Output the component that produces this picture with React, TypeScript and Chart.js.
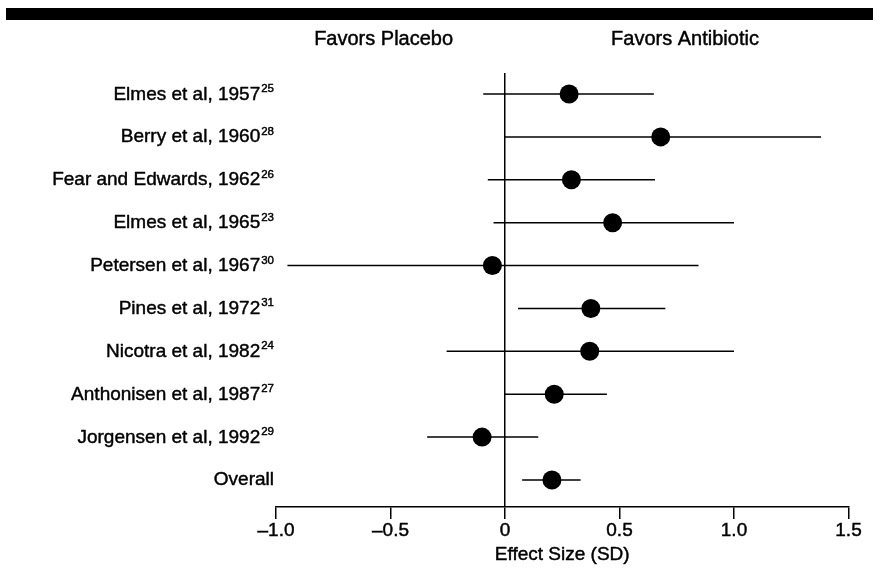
import React, { useEffect, useRef } from "react";
import { Chart, registerables } from "chart.js";

Chart.register(...registerables);

// ---- data ----
const studies = [
  "Elmes et al, 1957",
  "Berry et al, 1960",
  "Fear and Edwards, 1962",
  "Elmes et al, 1965",
  "Petersen et al, 1967",
  "Pines et al, 1972",
  "Nicotra et al, 1982",
  "Anthonisen et al, 1987",
  "Jorgensen et al, 1992",
  "Overall",
];
const refs = ["25", "28", "26", "23", "30", "31", "24", "27", "29", ""];
const effect = [0.28, 0.68, 0.29, 0.47, -0.055, 0.375, 0.37, 0.215, -0.1, 0.205];
const lower = [-0.095, 0.0, -0.075, -0.05, -0.95, 0.057, -0.255, 0.0, -0.34, 0.075];
const upper = [0.65, 1.38, 0.655, 1.0, 0.845, 0.7, 1.0, 0.445, 0.145, 0.33];
const xTicks = [-1, -0.5, 0, 0.5, 1, 1.5];
const xTickLabels = ["\u20131.0", "\u20130.5", "0", "0.5", "1.0", "1.5"];
const sideLabels = ["Favors Placebo", "Favors Antibiotic"];
const axisTitle = "Effect Size (SD)";

const FONT = "'Liberation Sans', Arial, Helvetica, sans-serif";
const STROKE = 0.45;

function heavyText(ctx: CanvasRenderingContext2D, text: string, x: number, y: number) {
  ctx.fillText(text, x, y);
  ctx.strokeText(text, x, y);
}

const decorPlugin = {
  id: "decor",
  beforeDraw(chart: any) {
    const { ctx } = chart;
    ctx.save();
    ctx.fillStyle = "#000";
    ctx.fillRect(6, 8, 867, 12);
    ctx.restore();
  },
  afterDraw(chart: any) {
    const { ctx, chartArea } = chart;
    const xs = chart.scales.x;
    const ys = chart.scales.y;
    ctx.save();
    ctx.fillStyle = "#000";
    ctx.strokeStyle = "#000";
    ctx.lineWidth = STROKE;
    ctx.lineJoin = "round";
    // side headings
    ctx.font = `20px ${FONT}`;
    ctx.textAlign = "center";
    ctx.textBaseline = "alphabetic";
    heavyText(ctx, sideLabels[0], xs.getPixelForValue(-0.53), 45);
    heavyText(ctx, sideLabels[1], xs.getPixelForValue(0.786), 45);
    // x axis title
    ctx.font = `19px ${FONT}`;
    heavyText(ctx, axisTitle, xs.getPixelForValue(0.25), 560);
    // row labels with superscripts
    const right = chartArea.left - 2;
    studies.forEach((name, i) => {
      const y = ys.getPixelForValue(i);
      ctx.font = `11.5px ${FONT}`;
      const sup = refs[i];
      const supW = sup ? ctx.measureText(sup).width : 0;
      ctx.textAlign = "left";
      if (sup) heavyText(ctx, sup, right - supW, y - 2);
      ctx.font = `19px ${FONT}`;
      ctx.textAlign = "right";
      heavyText(ctx, name, right - supW - (sup ? 1 : 0), y + 5.5);
    });
    ctx.restore();
  },
};

export default function App() {
  const ref = useRef<HTMLCanvasElement | null>(null);

  useEffect(() => {
    document.body.style.margin = "0";
    const canvas = ref.current;
    if (!canvas) return;

    const ciSets = studies.map((_, i) => ({
      type: "line" as const,
      data: [
        { x: lower[i], y: i },
        { x: upper[i], y: i },
      ],
      borderColor: "#000",
      borderWidth: 1.5,
      pointRadius: 0,
      showLine: true,
      order: 2,
    }));

    const chart = new Chart(canvas, {
      type: "scatter",
      data: {
        datasets: [
          {
            data: effect.map((v, i) => ({ x: v, y: i })),
            pointRadius: 9.5,
            pointBackgroundColor: "#000",
            pointBorderWidth: 0,
            order: 0,
          } as any,
          ...ciSets,
        ],
      },
      options: {
        responsive: false,
        animation: false,
        events: [],
        layout: { padding: { left: 276, right: 32.5, top: 73, bottom: 0 } },
        plugins: {
          legend: { display: false },
          tooltip: { enabled: false },
        },
        scales: {
          x: {
            type: "linear",
            min: -1,
            max: 1.5,
            afterBuildTicks: (scale: any) => {
              scale.ticks = xTicks.map((v) => ({ value: v }));
            },
            afterFit: (scale: any) => {
              scale.height = 69;
            },
            border: { display: true, color: "#000", width: 1.5 },
            grid: {
              drawOnChartArea: true,
              drawTicks: true,
              tickLength: 12,
              tickWidth: 1.5,
              tickColor: "#000",
              lineWidth: 1.5,
              color: (c: any) => (c.tick && c.tick.value === 0 ? "#000" : "rgba(0,0,0,0)"),
            },
            ticks: {
              color: "#000",
              padding: 0,
              maxRotation: 0,
              autoSkip: false,
              textStrokeColor: "#000",
              textStrokeWidth: STROKE,
              font: { family: FONT, size: 19 },
              callback: (v: any) => {
                const idx = xTicks.indexOf(Number(v));
                return idx >= 0 ? xTickLabels[idx] : "";
              },
            },
            title: { display: false },
          },
          y: {
            type: "linear",
            display: false,
            reverse: true,
            min: -0.49,
            max: 9.63,
          },
        },
      } as any,
      plugins: [decorPlugin],
    });

    return () => chart.destroy();
  }, []);

  return (
    <div style={{ position: "absolute", left: 0, top: 0, width: 881, height: 576 }}>
      <canvas ref={ref} width={881} height={576} style={{ display: "block" }} />
    </div>
  );
}
